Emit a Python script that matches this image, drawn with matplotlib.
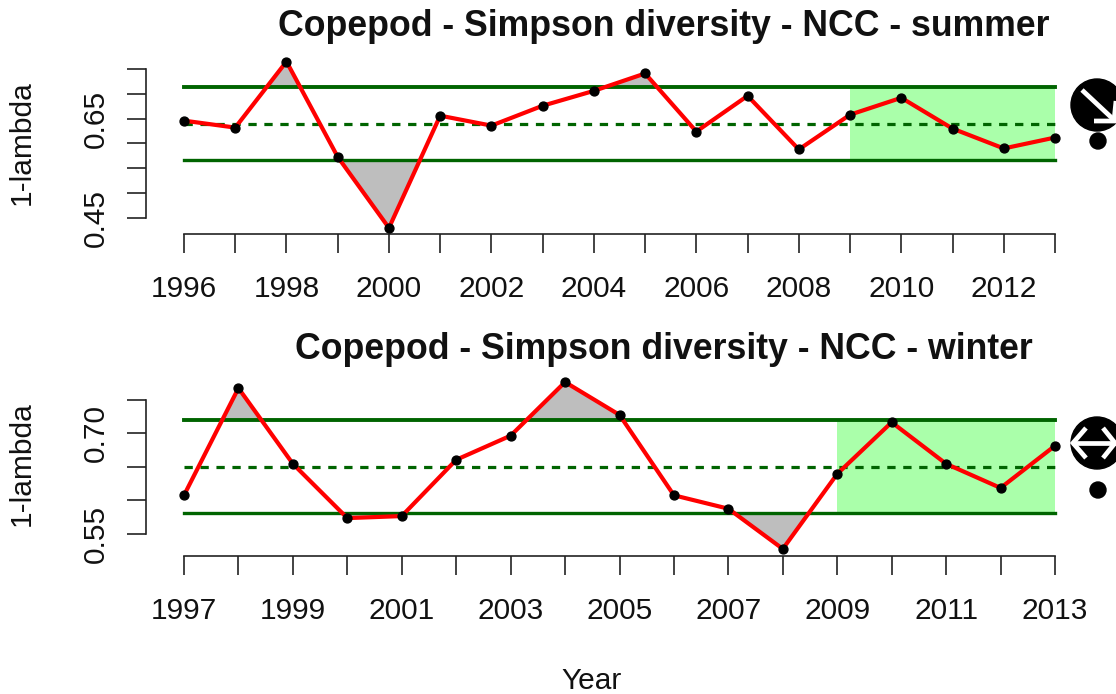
import numpy as np
import matplotlib
matplotlib.use("Agg")
import matplotlib.pyplot as plt

plt.rcParams["font.family"] = ["Liberation Sans", "DejaVu Sans"]

years_summer = list(range(1996, 2014))
vals_summer = [0.646, 0.632, 0.765, 0.573, 0.430, 0.656, 0.636, 0.676, 0.706, 0.741,
               0.624, 0.696, 0.588, 0.658, 0.692, 0.630, 0.590, 0.612]
upper_summer, mean_summer, lower_summer = 0.714, 0.640, 0.567
yticks_summer = [0.45, 0.50, 0.55, 0.60, 0.65, 0.70, 0.75]
ylabels_summer = ["0.45", "", "", "", "0.65", "", ""]

years_winter = list(range(1997, 2014))
vals_winter = [0.607, 0.767, 0.654, 0.573, 0.576, 0.660, 0.696, 0.776, 0.727, 0.607,
               0.587, 0.527, 0.639, 0.716, 0.654, 0.618, 0.681]
upper_winter, mean_winter, lower_winter = 0.719, 0.649, 0.581
yticks_winter = [0.55, 0.60, 0.65, 0.70, 0.75]
ylabels_winter = ["0.55", "", "", "0.70", ""]

W, H = 1116, 694
GREEN = "#006400"
fig = plt.figure(figsize=(W / 100, H / 100), dpi=100)


def panel(top, bottom, ylim, years, vals, upper, mean, lower, yticks, ylabels, title, title_y, ylab_y):
    ax = fig.add_axes([184 / W, 1 - bottom / H, (1055 - 184) / W, (bottom - top) / H])
    x = np.array(years, dtype=float)
    y = np.array(vals)
    ax.set_xlim(years[0], years[-1])
    ax.set_ylim(*ylim)
    # recent period box
    ax.fill_between([2009, years[-1]], lower, upper, color="#AAFFAA", lw=0, zorder=1)
    # shade where series leaves the band
    ax.fill_between(x, y, upper, where=y > upper, interpolate=True, color="#BEBEBE", lw=0, zorder=2, clip_on=False)
    ax.fill_between(x, y, lower, where=y < lower, interpolate=True, color="#BEBEBE", lw=0, zorder=2, clip_on=False)
    ax.plot([years[0], years[-1]], [upper, upper], color=GREEN, lw=2.8, zorder=3, clip_on=False)
    ax.plot([years[0], years[-1]], [lower, lower], color=GREEN, lw=2.4, zorder=3, clip_on=False)
    ax.plot([years[0], years[-1]], [mean, mean], color=GREEN, lw=2.3, zorder=3,
            dashes=(2.6, 2.4), clip_on=False)
    ax.plot(x, y, color="red", lw=3.0, zorder=4, clip_on=False)
    ax.plot(x, y, "o", color="black", ms=6.4, zorder=5, clip_on=False)

    for s in ["top", "right"]:
        ax.spines[s].set_visible(False)
    ax.spines["left"].set_position(("outward", 27.4))
    ax.spines["left"].set_bounds(yticks[0], yticks[-1])
    ax.spines["left"].set_linewidth(1.2)
    ax.spines["left"].set_color("#222222")
    ax.spines["bottom"].set_linewidth(1.2)
    ax.spines["bottom"].set_color("#222222")

    ax.set_xticks(years)
    ax.set_xticklabels([str(v) if i % 2 == 0 else "" for i, v in enumerate(years)])
    ax.tick_params(axis="x", length=13.7, width=1.2, color="#222222", pad=16, labelsize=21.5, labelcolor="#111111")
    ax.set_yticks(yticks)
    ax.set_yticklabels(ylabels, rotation=90, va="center")
    ax.tick_params(axis="y", length=13.7, width=1.2, color="#222222", pad=12, labelsize=21.5, labelcolor="#111111")

    fig.text(664 / W, 1 - (title_y + 1) / H, title, ha="center", va="center",
             fontsize=25.7, fontweight="bold", color="#111111")
    fig.text(22 / W, 1 - ylab_y / H, "1-lambda", rotation=90, ha="center", va="center",
             fontsize=21.5, color="#111111")
    return ax


s = 0.05 / 24.83
panel(69, 234, (0.75 - 165 * s, 0.75), years_summer, vals_summer, upper_summer, mean_summer,
      lower_summer, yticks_summer, ylabels_summer,
      "Copepod - Simpson diversity - NCC - summer", 26, 143)
s = 0.05 / 33.5
panel(399.5, 555.5, (0.75 - 156 * s, 0.75), years_winter, vals_winter, upper_winter, mean_winter,
      lower_winter, yticks_winter, ylabels_winter,
      "Copepod - Simpson diversity - NCC - winter", 348, 464)

fig.text(592 / W, 1 - 681 / H, "Year", ha="center", va="center", fontsize=21.5, color="#111111")

# trend / status symbols at the right, drawn in pixel coordinates
ov = fig.add_axes([0, 0, 1, 1], facecolor="none")
ov.set_xlim(0, W)
ov.set_ylim(H, 0)
ov.axis("off")
for cy, dy in [(105, 141), (443, 490)]:
    ov.add_patch(plt.Circle((1097, cy), 26, color="black", zorder=1))
    ov.add_patch(plt.Circle((1098, dy), 8, color="black", zorder=1))
white = dict(color="white", lw=3.4, zorder=2, solid_capstyle="butt", solid_joinstyle="miter")
ov.plot([1082, 1113], [90, 119], **white)
ov.plot([1094, 1114, 1116], [121, 121, 101], **white)
ov.plot([1072, 1116], [443, 443], **white)
ov.plot([1086, 1073, 1086], [428, 443, 458], **white)
ov.plot([1103, 1115, 1103], [428, 443, 458], **white)

fig.savefig("out.png", dpi=100)
